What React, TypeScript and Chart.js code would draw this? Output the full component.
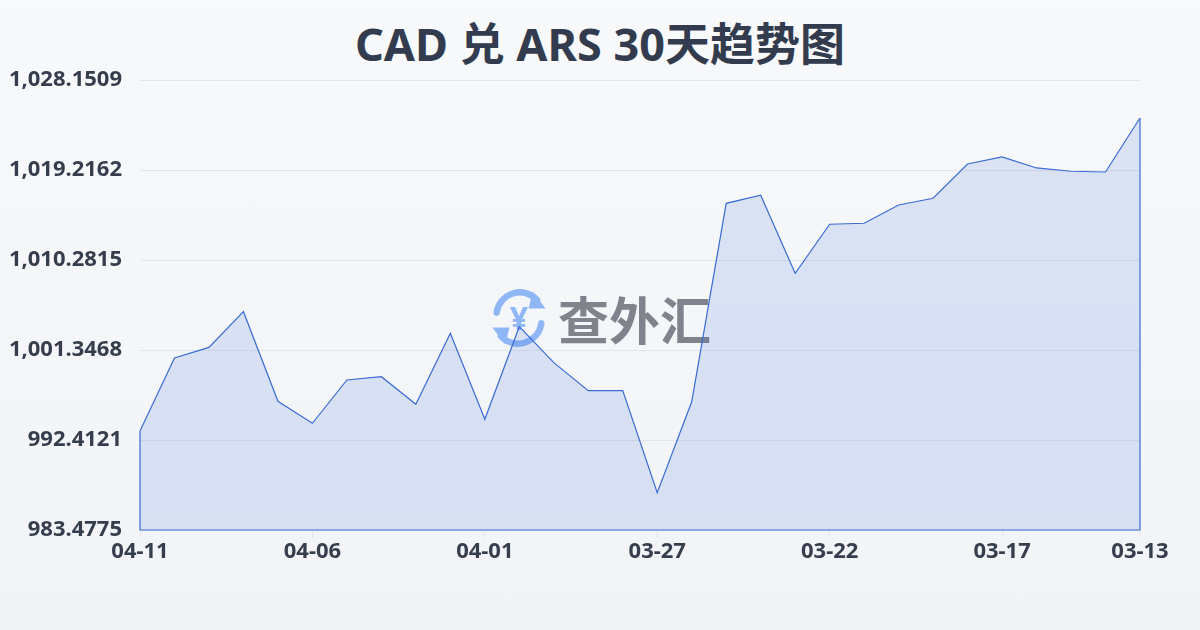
import React, { useEffect, useRef } from "react";
import { Chart, registerables } from "chart.js";

Chart.register(...registerables);

const TITLE = "CAD 兑 ARS 30天趋势图";
const dates = [
  "04-11", "04-10", "04-09", "04-08", "04-07", "04-06", "04-05", "04-04", "04-03", "04-02",
  "04-01", "03-31", "03-30", "03-29", "03-28", "03-27", "03-26", "03-25", "03-24", "03-23",
  "03-22", "03-21", "03-20", "03-19", "03-18", "03-17", "03-16", "03-15", "03-14", "03-13",
];
const rates = [
  993.31, 1000.55, 1001.61, 1005.15, 996.26, 994.07, 998.37, 998.70, 995.96, 1003.0,
  994.47, 1003.66, 1000.09, 997.31, 997.31, 987.18, 996.21, 1015.91, 1016.71, 1008.96,
  1013.83, 1013.93, 1015.74, 1016.41, 1019.81, 1020.51, 1019.42, 1019.09, 1019.02, 1024.38,
];
const yTicks = [983.4775, 992.4121, 1001.3468, 1010.2815, 1019.2162, 1028.1509];

const FONT = '"Noto Sans", "Open Sans", "Noto Sans CJK SC", sans-serif';
const LINE = "#3a6bd4";

const shown = (i: number) => i % 5 === 0 || i === dates.length - 1;

const fillOutline = {
  id: "fillOutline",
  afterDatasetsDraw(chart: any) {
    const meta = chart.getDatasetMeta(0);
    const pts = meta.data;
    if (!pts.length) return;
    const yScale = chart.scales.y;
    const base = yScale.getPixelForValue(yScale.min);
    const ctx = chart.ctx;
    ctx.save();
    ctx.strokeStyle = LINE;
    ctx.lineWidth = 1.2;
    ctx.beginPath();
    const first = pts[0];
    const last = pts[pts.length - 1];
    ctx.moveTo(last.x, last.y);
    ctx.lineTo(last.x, base);
    ctx.lineTo(first.x, base);
    ctx.lineTo(first.x, first.y);
    ctx.stroke();
    ctx.restore();
  },
};

function Logo() {
  return (
    <svg width="66" height="66" viewBox="0 0 62 62">
      <g fill="none" stroke="#8fb6f5" strokeWidth="6" strokeLinecap="round">
        <path d="M 10 26 A 22 22 0 0 1 48 14" />
        <path d="M 52 36 A 22 22 0 0 1 14 48" />
      </g>
      <polygon points="44,6 56,22 40,22" fill="#8fb6f5" />
      <polygon points="18,56 6,40 22,40" fill="#8fb6f5" />
      <text x="31" y="42" textAnchor="middle" fontSize="30" fontWeight="bold" fill="#8fb6f5" fontFamily={FONT}>¥</text>
    </svg>
  );
}

export default function App() {
  const ref = useRef<HTMLCanvasElement | null>(null);
  useEffect(() => {
    document.body.style.margin = "0";
    const chart = new Chart(ref.current!, {
      type: "line",
      data: {
        labels: dates,
        datasets: [
          {
            data: rates,
            borderColor: LINE,
            borderWidth: 1.2,
            backgroundColor: "rgba(58,107,212,0.15)",
            fill: "start",
            pointRadius: 0,
            tension: 0,
          },
        ],
      },
      options: {
        animation: false,
        responsive: false,
        maintainAspectRatio: false,
        layout: { padding: { top: 80, right: 60, left: 0, bottom: 0 } },
        plugins: { legend: { display: false }, title: { display: false }, tooltip: { enabled: false } },
        scales: {
          x: {
            grid: {
              drawOnChartArea: false,
              drawTicks: true,
              tickLength: 8,
              color: (c: any) => (shown(c.index) ? "#e3e6ea" : "rgba(0,0,0,0)"),
            },
            border: { display: false },
            ticks: {
              autoSkip: false,
              maxRotation: 0,
              minRotation: 0,
              padding: 1,
              color: "#363e4e",
              font: { family: FONT, size: 22, weight: "bold" },
              callback: (_v: any, i: number) => (shown(i) ? dates[i] : ""),
            },
            afterFit: (s: any) => {
              s.height = 100;
            },
          },
          y: {
            min: yTicks[0],
            max: yTicks[yTicks.length - 1],
            afterBuildTicks: (s: any) => {
              s.ticks = yTicks.map((v) => ({ value: v }));
            },
            grid: { color: "#e3e6ea", drawTicks: false },
            border: { display: false },
            ticks: {
              padding: 18,
              color: "#363e4e",
              font: { family: FONT, size: 22, weight: "bold" },
              callback: (v: any) =>
                Number(v).toLocaleString("en-US", { minimumFractionDigits: 4, maximumFractionDigits: 4 }),
            },
            afterFit: (s: any) => {
              s.width = 140;
            },
          },
        },
      },
      plugins: [fillOutline],
    });
    return () => chart.destroy();
  }, []);

  return (
    <div
      style={{
        position: "fixed",
        left: 0,
        top: 0,
        width: 1200,
        height: 630,
        background: "linear-gradient(180deg, #f8f9fb 0%, #f1f3f6 100%)",
        overflow: "hidden",
      }}
    >
      <div
        style={{
          position: "absolute",
          top: 15,
          left: 0,
          width: 1200,
          textAlign: "center",
          fontFamily: FONT,
          fontWeight: "bold",
          fontSize: 45,
          lineHeight: "58px",
          color: "#333c4e",
        }}
      >
        {TITLE}
      </div>
      <div
        style={{
          position: "absolute",
          left: 486,
          top: 281,
          display: "flex",
          alignItems: "center",
          gap: 6,
          pointerEvents: "none",
        }}
      >
        <Logo />
        <span style={{ fontFamily: '"Noto Sans CJK SC", sans-serif', fontWeight: "bold", fontSize: 51, color: "#7e838c", letterSpacing: 0 }}>
          查外汇
        </span>
      </div>
      <canvas ref={ref} width={1200} height={630} style={{ position: "absolute", left: 0, top: 0 }} />
    </div>
  );
}
